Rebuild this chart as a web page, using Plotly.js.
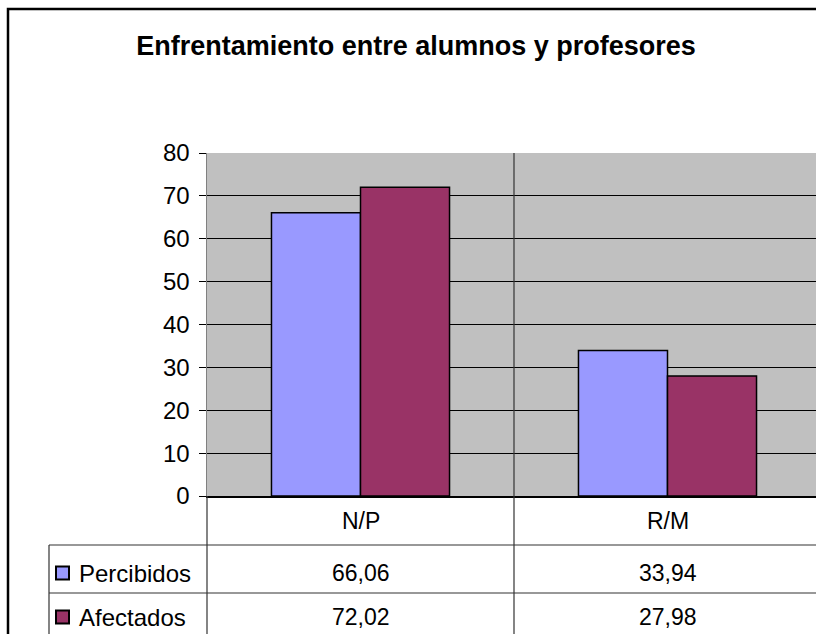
<!DOCTYPE html>
<html>
<head>
<meta charset="utf-8">
<script src="https://cdn.plot.ly/plotly-3.0.1.min.js"></script>
<style>
  body { margin: 0; overflow: hidden; background: #fff; }
</style>
</head>
<body>
<div id="myDiv" style="width:830px;height:634px;"></div>
<script>
var categories = ['N/P', 'R/M'];
var seriesNames = ['Percibidos', 'Afectados'];
var percibidos = [66.06, 33.94];
var afectados = [72.02, 27.98];
var seriesColors = ['#9999FF', '#993366'];

// plot area in pixels (the chart is wider than the window, right side is cut off)
var W = 830, H = 634;
var L = 207, R = 821, T = 153, B = 496;
function px(x) { return (x - L) / (R - L); }
function py(y) { return (B - y) / (B - T); }

function fmt(v) { return v.toFixed(2).replace('.', ','); }

var font = 'Liberation Sans, Arial, sans-serif';

var data = [
    {
        x: categories, y: percibidos, name: seriesNames[0], type: 'bar',
        marker: { color: seriesColors[0], line: { color: '#000', width: 1.5 } },
        hoverinfo: 'none'
    },
    {
        x: categories, y: afectados, name: seriesNames[1], type: 'bar',
        marker: { color: seriesColors[1], line: { color: '#000', width: 1.5 } },
        hoverinfo: 'none'
    }
];

var lineCol = '#333';
var shapes = [
    // outer chart frame
    { type: 'rect', xref: 'paper', yref: 'paper', x0: px(8), x1: px(900), y0: py(9), y1: py(700),
      line: { color: '#000', width: 2.5 }, layer: 'above' },
    // data table lines
    { type: 'line', xref: 'paper', yref: 'paper', x0: 0, x1: 0, y0: 0, y1: py(640), line: { color: lineCol, width: 1.2 } },
    { type: 'line', xref: 'paper', yref: 'paper', x0: 0.5, x1: 0.5, y0: 1, y1: py(640), line: { color: lineCol, width: 1.2 } },
    { type: 'line', xref: 'paper', yref: 'paper', x0: px(49), x1: px(900), y0: py(545), y1: py(545), line: { color: lineCol, width: 1.2 } },
    { type: 'line', xref: 'paper', yref: 'paper', x0: px(49), x1: px(900), y0: py(593), y1: py(593), line: { color: lineCol, width: 1.2 } },
    { type: 'line', xref: 'paper', yref: 'paper', x0: px(49), x1: px(49), y0: py(545), y1: py(640), line: { color: lineCol, width: 1.2 } }
];

var annotations = [];
var rowY = [573, 617];
categories.forEach(function (c) {
    annotations.push({ xref: 'x', yref: 'paper', x: c, y: py(521), text: c, showarrow: false,
        xanchor: 'center', yanchor: 'middle', font: { family: font, size: 23, color: '#000' } });
});
[percibidos, afectados].forEach(function (vals, i) {
    shapes.push({ type: 'rect', xref: 'paper', yref: 'paper', x0: px(56), x1: px(69),
        y0: py(rowY[i] - 6.5), y1: py(rowY[i] + 6.5),
        fillcolor: seriesColors[i], line: { color: '#000', width: 2 } });
    annotations.push({ xref: 'paper', yref: 'paper', x: px(77), y: py(rowY[i]), text: seriesNames[i],
        showarrow: false, xanchor: 'left', yanchor: 'middle', font: { family: font, size: 24, color: '#000' } });
    vals.forEach(function (v, j) {
        annotations.push({ xref: 'x', yref: 'paper', x: categories[j], y: py(rowY[i]), text: fmt(v),
            showarrow: false, xanchor: 'center', yanchor: 'middle', font: { family: font, size: 23, color: '#000' } });
    });
});

var layout = {
    width: W,
    height: H,
    margin: { l: L, r: W - R, t: T, b: H - B, pad: 0 },
    paper_bgcolor: '#fff',
    plot_bgcolor: '#C0C0C0',
    showlegend: false,
    title: {
        text: '<b>Enfrentamiento entre alumnos y profesores</b>',
        font: { family: font, size: 27, color: '#000' },
        x: 416 / W, xref: 'container', xanchor: 'center',
        y: 1 - 46 / H, yref: 'container', yanchor: 'middle'
    },
    xaxis: {
        type: 'category',
        range: [-0.5, 1.5],
        showticklabels: false,
        ticks: '',
        showgrid: false,
        showline: true,
        linecolor: '#000',
        linewidth: 1.5,
        zeroline: false,
        fixedrange: true
    },
    yaxis: {
        range: [0, 80],
        dtick: 10,
        ticks: 'outside',
        ticklen: 7,
        tickcolor: '#000',
        ticklabelstandoff: 4,
        tickfont: { family: font, size: 24, color: '#000' },
        showgrid: true,
        gridcolor: '#000',
        gridwidth: 1,
        showline: true,
        linecolor: '#808080',
        linewidth: 1.5,
        zeroline: false,
        fixedrange: true
    },
    barmode: 'group',
    bargap: 0.42,
    bargroupgap: 0,
    shapes: shapes,
    annotations: annotations
};

Plotly.newPlot('myDiv', data, layout, { displayModeBar: false, staticPlot: true });
</script>
</body>
</html>
